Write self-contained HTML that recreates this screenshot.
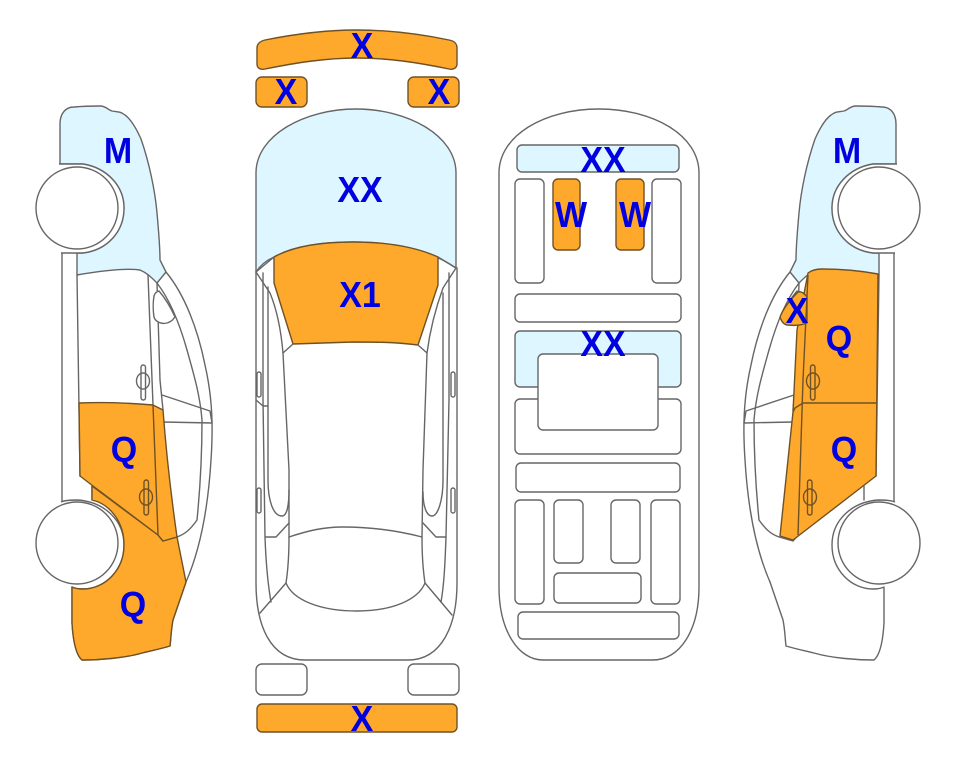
<!DOCTYPE html>
<html>
<head>
<meta charset="utf-8">
<title>Vehicle damage diagram</title>
<style>
html,body{margin:0;padding:0;background:#fff;width:963px;height:768px;overflow:hidden}
svg{display:block}
.l{fill:none;stroke:#666;stroke-width:1.4;stroke-linejoin:round;stroke-linecap:round}
.w{fill:#fff;stroke:#666;stroke-width:1.4}
.b{fill:#def6ff;stroke:#666;stroke-width:1.4;stroke-linejoin:round}
.o{fill:#ffa92c;stroke:#6e5226;stroke-width:1.4;stroke-linejoin:round}
.d{fill:none;stroke:#6e5226;stroke-width:1.4;stroke-linejoin:round}
text{font-family:"Liberation Sans",Arial,sans-serif;font-weight:700;font-size:34px;fill:#0000e0;text-anchor:middle}
</style>
</head>
<body>
<svg width="963" height="768" viewBox="0 0 963 768" xmlns="http://www.w3.org/2000/svg">
<defs>
<g id="car">
  <path class="b" d="M60 164V124C60 113 66 107 74 107C85 106 95 106 100 106C106 106 108 110 112 111C117 112 120 111 125 115C132 120 137 130 141 139C149 162 155 190 157 213C159 235 160 250 160 260L166 272L157 283C151 277 147 273 140 270C125 268 100 271 77 275V253H83C107 250 124 232 124 208C124 186 107 168 83 164Z"/>
  <path class="l" d="M62 253V502M77 275L80 476M148 275L158 535M157 283L160 380L163 410"/>
  <path class="l" d="M157 283C170 300 180 325 187 350C194 375 200 395 202 420C202 460 200 490 197 520C190 530 185 534 177 537L163 541L158 535"/>
  <path class="l" d="M166 272C185 295 198 330 205 365C213 400 213 430 211 460C208 510 200 550 186 582"/>
  <path class="l" d="M162 395L210 411L212 423L163 422"/>
  <path class="l" d="M154 296C153 302 153 311 154 317C156 324 168 327 175 317C171 308 165 298 159 291C156 292 155 293 154 296Z" style="fill:#fff"/>
  <path class="l" d="M92 486V500M186 582L173 620C171 630 171 638 170 646C160 649 150 651 142 653C125 658 100 660 82 660C76 655 73 640 72 623V587"/>
  <path class="w" d="M59 164H83C107 168 124 186 124 208C124 232 107 250 83 253H61"/>
  <circle class="w" cx="77" cy="208" r="41"/>
  <path class="w" d="M61 502C65 500 72 500 78 500C104 502 124 520 124 545C124 570 105 589 83 589C78 589 74 588 72 587"/>
  <circle class="w" cx="77" cy="543" r="41"/>
  <rect class="l" x="141" y="365" width="4.5" height="35" rx="2.2"/>
  <ellipse class="l" cx="143" cy="381" rx="6.5" ry="8"/>
  <rect class="l" x="144" y="480" width="4.5" height="35" rx="2.2"/>
  <ellipse class="l" cx="146" cy="497" rx="6.5" ry="8"/>
</g>
</defs>

<use href="#car"/>
<use href="#car" transform="translate(956 0) scale(-1 1)"/>

<!-- left car orange -->
<path class="o" d="M92 486V500C110 504 124 522 124 545C124 570 105 589 83 589C78 589 74 588 72 587V623C73 640 76 655 82 660C100 660 125 658 142 653C150 651 160 649 170 646C171 638 171 630 173 620L186 582L177 537L163 541L158 535Z"/>
<path class="o" d="M79 403C105 402 130 403 153 405L163 410C166 450 171 495 177 537L163 541L158 535L93 486L80 476Z"/>
<path class="d" d="M153 405L158 535"/>
<rect class="d" x="144" y="480" width="4.5" height="35" rx="2.2"/>
<ellipse class="d" cx="146" cy="497" rx="6.5" ry="8"/>

<!-- right car orange -->
<path class="o" d="M808 273C812 270 817 269 822 269C845 269 862 271 878 274L877 380L876 476L793 540L780 536L793 412L797 330Z"/>
<path class="o" d="M798 292C790 300 783 309 780 317C782 323 785 325 788 325C796 326 802 325 807 323V297C804 293 801 291 798 292Z"/>
<path class="d" d="M808 275L803 380L798 535M793 412L795 408L803 403H877"/>
<rect class="d" x="810.500" y="365" width="4.500" height="35" rx="2.200"/>
<ellipse class="d" cx="813" cy="381" rx="6.500" ry="8"/>
<rect class="d" x="807.500" y="480" width="4.500" height="35" rx="2.200"/>
<ellipse class="d" cx="810" cy="497" rx="6.500" ry="8"/>

<!-- top view car -->
<path class="o" d="M257 48C257 43 261 41 265 40C295 34 325 30 357 30C390 30 420 34 449 40C454 41 457 43 457 48V64C457 68 453 70 449 69C420 63 390 58 357 58C325 58 295 63 265 69C260 70 257 68 257 64Z"/>
<rect class="o" x="256" y="77" width="51" height="30" rx="6"/>
<rect class="o" x="408" y="77" width="51" height="30" rx="6"/>
<path class="b" d="M256 272V173C256 135 305 109 356 109C407 109 456 135 456 173V268C430 250 395 242 353 242C315 242 290 248 274 257C265 261 260 266 256 272Z"/>
<path class="o" d="M274 257C290 248 315 242 353 242C390 242 418 248 438 257V285L418 345C395 342 375 342 353 342L293 344L274 283Z"/>
<path class="l" d="M256 272V583C256 625 270 660 305 660H408C442 660 457 625 457 583V268"/>
<path class="l" d="M256 272L274 257M456 268L438 257"/>
<path class="l" d="M256 272L270 293C277 310 281 330 283 353L293 344M456 268L443 288C435 310 430 330 427 353L418 345"/>
<path class="l" d="M283 353L289 470V537C289 555 288 570 286 583C293 600 320 611 357 611C392 611 418 600 425 583C423 570 422 555 422 537L423 470L427 353"/>
<path class="l" d="M289 537C310 530 325 527 343 527C370 527 395 530 422 537"/>
<path class="l" d="M263 273V400L265 537C266 565 268 585 271 602M449 273V400L446 537C445 565 444 585 441 602"/>
<path class="l" d="M268 287V480C268 500 273 516 282 516C287 516 289 505 289 490M443 293V480C443 500 438 516 432 516C426 516 423 505 423 492"/>
<path class="l" d="M256 400L263 406H268M266 537H276L289 523M446 537H436L423 523"/>
<path class="l" d="M260 613L286 583M452 615L425 583"/>
<rect class="w" x="257" y="372" width="4" height="25" rx="2"/>
<rect class="w" x="257" y="488" width="4" height="25" rx="2"/>
<rect class="w" x="451" y="372" width="4" height="25" rx="2"/>
<rect class="w" x="451" y="488" width="4" height="25" rx="2"/>
<rect class="w" x="256" y="664" width="51" height="31" rx="6"/>
<rect class="w" x="408" y="664" width="51" height="31" rx="6"/>
<rect class="o" x="257" y="704" width="200" height="28" rx="5"/>

<!-- plan view -->
<path class="w" d="M499 173C499 135 545 109 599 109C653 109 699 135 699 173V587C699 630 680 660 653 660H543C518 660 499 630 499 587Z"/>
<rect class="b" x="517" y="145" width="162" height="27" rx="5"/>
<rect class="w" x="515" y="179" width="29" height="104" rx="5"/>
<rect class="o" x="553" y="179" width="27" height="71" rx="5"/>
<rect class="o" x="616" y="179" width="28" height="71" rx="5"/>
<rect class="w" x="652" y="179" width="29" height="104" rx="5"/>
<rect class="w" x="515" y="294" width="166" height="28" rx="5"/>
<rect class="b" x="515" y="331" width="166" height="56" rx="5"/>
<rect class="w" x="515" y="399" width="166" height="55" rx="5"/>
<rect class="w" x="538" y="354" width="120" height="76" rx="5"/>
<rect class="w" x="516" y="463" width="164" height="29" rx="5"/>
<rect class="w" x="515" y="500" width="29" height="104" rx="5"/>
<rect class="w" x="554" y="500" width="29" height="63" rx="5"/>
<rect class="w" x="611" y="500" width="29" height="63" rx="5"/>
<rect class="w" x="651" y="500" width="29" height="104" rx="5"/>
<rect class="w" x="554" y="573" width="87" height="30" rx="5"/>
<rect class="w" x="518" y="612" width="161" height="27" rx="5"/>

<!-- labels -->
<g transform="scale(1 1.07)">
<text x="118" y="152.3">M</text>
<text x="124" y="431.8">Q</text>
<text x="133" y="576.6">Q</text>
<text x="362" y="54.2">X</text>
<text x="286" y="97.2">X</text>
<text x="439" y="97.2">X</text>
<text x="360" y="188.8">XX</text>
<text x="360" y="286.9">X1</text>
<text x="362" y="683.2">X</text>
<text x="603" y="160.7">XX</text>
<text x="603" y="332.7">XX</text>
<text x="571" y="212.1">W</text>
<text x="635" y="212.1">W</text>
<text x="847" y="152.3">M</text>
<text x="797" y="301.9">X</text>
<text x="839" y="328">Q</text>
<text x="844" y="431.8">Q</text>
</g>
</svg>
</body>
</html>
